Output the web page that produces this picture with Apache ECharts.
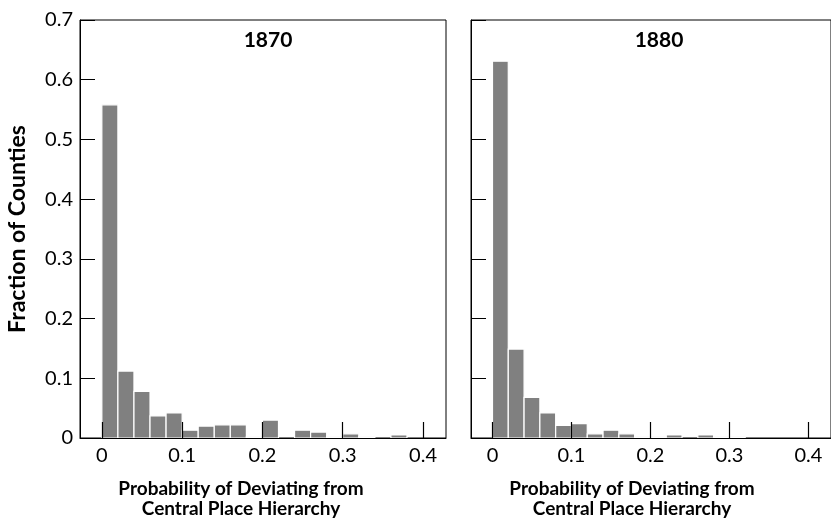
<!DOCTYPE html>
<html>
<head>
<meta charset="utf-8">
<script src="https://cdn.jsdelivr.net/npm/echarts@6/dist/echarts.min.js"></script>
<style>
  html, body { margin: 0; padding: 0; background: #fff; }
  #chart { width: 831px; height: 521px; }
</style>
</head>
<body>
<div id="chart"></div>
<script>
// Histogram bins (left edge of each bin; every bin is 0.02 wide)
const binStarts = [0, 0.02, 0.04, 0.06, 0.08, 0.10, 0.12, 0.14, 0.16, 0.18,
                   0.20, 0.22, 0.24, 0.26, 0.28, 0.30, 0.32, 0.34, 0.36, 0.38];
const binWidth = 0.02;

// Fraction of counties in each bin
const values1870 = [0.558, 0.112, 0.078, 0.037, 0.042, 0.013, 0.020, 0.022, 0.022, 0.002,
                    0.030, 0, 0.013, 0.010, 0.002, 0.007, 0.002, 0, 0.005, 0];
const values1880 = [0.631, 0.149, 0.068, 0.042, 0.021, 0.024, 0.007, 0.013, 0.007, 0.002,
                    0.002, 0.005, 0, 0.005, 0.002, 0.002, 0, 0, 0, 0];

const panelTitles = ['1870', '1880'];
const xTickValues = [0, 0.1, 0.2, 0.3, 0.4];
const xAxisTitle = 'Probability of Deviating from\nCentral Place Hierarchy';
const yAxisTitle = 'Fraction of Counties';

const FONT = 'Lato, "Open Sans", sans-serif';

function toBins(values) {
  return binStarts.map((s, i) => [s, s + binWidth, values[i]]);
}

function renderBar(params, api) {
  const y = api.value(2);
  if (!(y > 0)) return null;
  const topLeft = api.coord([api.value(0), y]);
  const bottomRight = api.coord([api.value(1), 0]);
  return {
    type: 'rect',
    shape: {
      x: topLeft[0],
      y: topLeft[1],
      width: bottomRight[0] - topLeft[0],
      height: bottomRight[1] - topLeft[1]
    },
    style: { fill: '#808080', stroke: '#ffffff', lineWidth: 1.2 }
  };
}

const gridLefts = [80, 471];
const grids = gridLefts.map(l => ({
  left: l, top: 20, width: 366, height: 418,
  show: true, borderColor: '#000', borderWidth: 1, backgroundColor: 'transparent'
}));

const xAxes = gridLefts.map((l, i) => ({
  type: 'value', gridIndex: i, min: -0.0272, max: 0.4286, z: 5,
  axisLine: { show: true, onZero: false, lineStyle: { color: '#000', width: 1 } },
  axisTick: { show: true, inside: true, length: 16, customValues: xTickValues,
              lineStyle: { color: '#000', width: 1.2 } },
  axisLabel: { show: true, customValues: xTickValues, margin: 8, color: '#000',
               fontFamily: FONT, fontSize: 20 },
  splitLine: { show: false }
}));

const yAxes = gridLefts.map((l, i) => ({
  type: 'value', gridIndex: i, min: 0, max: 0.7, interval: 0.1, z: 5,
  name: i === 0 ? yAxisTitle : '',
  nameLocation: 'middle', nameGap: 51,
  nameTextStyle: { color: '#000', fontFamily: FONT, fontSize: 23, fontWeight: 'bold' },
  axisLine: { show: true, onZero: false, lineStyle: { color: '#000', width: 1 } },
  axisTick: { show: true, inside: true, length: 15, lineStyle: { color: '#000', width: 1 } },
  axisLabel: { show: i === 0, margin: 7, color: '#000', fontFamily: FONT, fontSize: 20 },
  splitLine: { show: false }
}));

const titles = [];
panelTitles.forEach((t, i) => {
  titles.push({
    text: t, left: gridLefts[i] + 183, top: 25, textAlign: 'center',
    textStyle: { color: '#000', fontFamily: FONT, fontSize: 21, fontWeight: 'bold' }
  });
  titles.push({
    text: xAxisTitle, left: gridLefts[i] + 156, top: 474, textAlign: 'center',
    textStyle: { color: '#000', fontFamily: FONT, fontSize: 19, fontWeight: 'bold', lineHeight: 20 }
  });
});

const chart = echarts.init(document.getElementById('chart'), null, { renderer: 'canvas' });
chart.setOption({
  animation: false,
  backgroundColor: '#fff',
  title: titles,
  grid: grids,
  xAxis: xAxes,
  yAxis: yAxes,
  series: [values1870, values1880].map((vals, i) => ({
    type: 'custom',
    xAxisIndex: i, yAxisIndex: i,
    renderItem: renderBar,
    encode: { x: [0, 1], y: 2 },
    data: toBins(vals),
    z: 1
  }))
});
</script>
</body>
</html>
